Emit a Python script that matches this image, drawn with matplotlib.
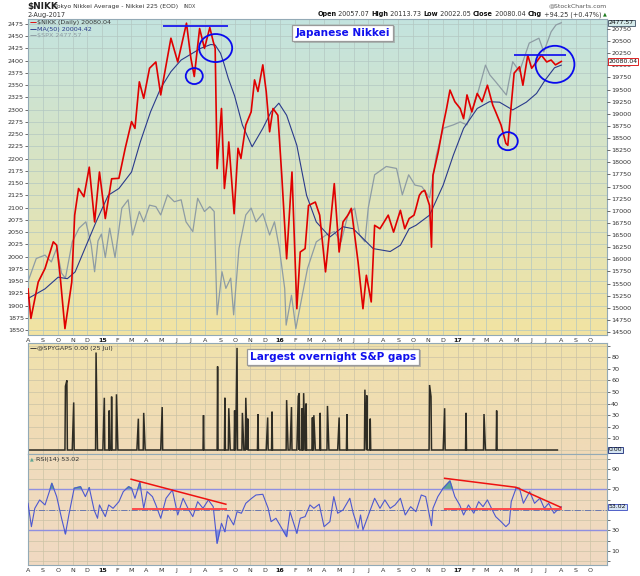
import numpy as np
import pandas as pd
import matplotlib
matplotlib.use("Agg")
import matplotlib.pyplot as plt
import matplotlib.dates as mdates
import matplotlib.patheffects as pe
from matplotlib.colors import to_rgb
from matplotlib.patches import Ellipse

# values (approximate)
nikk_dates = ["2014-08-01", "2014-08-07", "2014-08-22", "2014-09-05", "2014-09-22", "2014-09-29",
              "2014-10-06", "2014-10-16", "2014-10-23", "2014-10-30", "2014-11-05", "2014-11-13",
              "2014-11-24", "2014-12-05", "2014-12-16", "2014-12-26", "2015-01-07", "2015-01-20",
              "2015-02-04", "2015-02-17", "2015-03-02", "2015-03-09", "2015-03-18", "2015-03-27",
              "2015-04-08", "2015-04-21", "2015-05-01", "2015-05-22", "2015-06-05", "2015-06-23",
              "2015-07-02", "2015-07-09", "2015-07-20", "2015-07-30", "2015-08-10", "2015-08-17",
              "2015-08-21", "2015-08-25", "2015-09-03", "2015-09-09", "2015-09-16", "2015-09-18",
              "2015-09-29", "2015-10-07", "2015-10-13", "2015-10-23", "2015-11-03", "2015-11-10",
              "2015-11-17", "2015-11-27", "2015-12-04", "2015-12-11", "2015-12-18", "2015-12-28",
              "2016-01-05", "2016-01-15", "2016-01-26", "2016-02-05", "2016-02-12", "2016-02-22",
              "2016-02-29", "2016-03-14", "2016-03-23", "2016-04-04", "2016-04-13", "2016-04-22",
              "2016-05-02", "2016-05-10", "2016-05-20", "2016-05-27", "2016-06-10", "2016-06-20",
              "2016-06-27", "2016-07-07", "2016-07-14", "2016-07-25", "2016-08-11", "2016-08-22",
              "2016-09-05", "2016-09-14", "2016-09-23", "2016-10-03", "2016-10-07", "2016-10-14",
              "2016-10-19", "2016-10-25", "2016-11-04", "2016-11-08", "2016-11-11", "2016-11-22",
              "2016-12-02", "2016-12-09", "2016-12-16", "2016-12-26", "2017-01-06", "2017-01-13",
              "2017-01-20", "2017-01-30", "2017-02-10", "2017-02-20", "2017-03-03", "2017-03-14",
              "2017-03-20", "2017-03-31", "2017-04-10", "2017-04-14", "2017-04-21", "2017-04-27",
              "2017-05-08", "2017-05-15", "2017-05-25", "2017-06-02", "2017-06-12", "2017-06-22",
              "2017-07-03", "2017-07-12", "2017-07-21", "2017-08-02"]
nikk_close = [15390, 14780, 15530, 15810, 16360, 16290,
              15670, 14570, 15050, 15530, 16910, 17460,
              17290, 17900, 16770, 17800, 16840, 17660,
              17670, 18290, 18840, 18700, 19660, 19320,
              19940, 20070, 19390, 20560, 20070, 20870,
              20150, 19770, 20760, 20350, 20780, 20490,
              20350, 17870, 19110, 17460, 18150, 18420,
              16940, 18290, 18080, 18770, 19040, 19700,
              19460, 20010, 19460, 18630, 19110, 18970,
              17730, 16010, 17800, 14980, 16150, 16220,
              17110, 17180, 16910, 15740, 16630, 17560,
              16150, 16770, 16910, 17050, 15940, 14980,
              15670, 15120, 16700, 16630, 16910, 16560,
              17010, 16630, 16840, 16910, 17050, 17320,
              17390, 17420, 17110, 16250, 17730, 18220,
              18770, 19110, 19490, 19250, 19110, 18900,
              19390, 19040, 19420, 19250, 19590, 19180,
              19040, 18770, 18390, 18350, 19180, 19840,
              19970, 19590, 20210, 19940, 20070, 20210,
              20070, 20110, 20010, 20080.04]

ma50_dates = ["2014-08-01", "2014-09-05", "2014-10-02", "2014-10-21", "2014-11-06", "2014-11-26",
              "2014-12-19", "2015-01-13", "2015-02-04", "2015-03-02", "2015-03-20", "2015-04-10",
              "2015-05-01", "2015-05-22", "2015-06-12", "2015-07-02", "2015-07-22", "2015-08-12",
              "2015-08-21", "2015-09-01", "2015-09-07", "2015-09-17", "2015-09-30", "2015-10-16",
              "2015-11-05", "2015-11-27", "2015-12-14", "2015-12-30", "2016-01-15", "2016-02-05",
              "2016-02-25", "2016-03-16", "2016-04-13", "2016-05-10", "2016-05-31", "2016-06-20",
              "2016-07-11", "2016-08-15", "2016-09-05", "2016-09-23", "2016-10-07", "2016-11-04",
              "2016-12-02", "2016-12-23", "2017-01-13", "2017-02-10", "2017-03-07", "2017-03-28",
              "2017-04-24", "2017-05-22", "2017-06-12", "2017-06-30", "2017-07-19", "2017-08-02"]
ma50_values = [15190, 15390, 15630, 15600, 15740, 16220,
               16770, 17320, 17460, 17800, 18420, 19040,
               19530, 19870, 20110, 20230, 20350, 20430,
               20420, 20250, 20070, 19730, 19370, 18770,
               18320, 18700, 19040, 19220, 18970, 18350,
               17320, 16770, 16460, 16670, 16630, 16430,
               16220, 16160, 16290, 16630, 16700, 16910,
               17530, 18150, 18700, 19110, 19250, 19240,
               19080, 19240, 19420, 19700, 19950, 20004.42]

spx_dates = ["2014-08-01", "2014-08-18", "2014-09-05", "2014-09-18", "2014-09-29", "2014-10-09",
             "2014-10-17", "2014-10-31", "2014-11-14", "2014-11-28", "2014-12-09", "2014-12-16",
             "2014-12-23", "2014-12-30", "2015-01-07", "2015-01-16", "2015-01-27", "2015-02-10",
             "2015-02-23", "2015-03-04", "2015-03-18", "2015-03-27", "2015-04-08", "2015-04-21",
             "2015-05-01", "2015-05-15", "2015-05-29", "2015-06-12", "2015-06-22", "2015-07-06",
             "2015-07-16", "2015-07-30", "2015-08-10", "2015-08-19", "2015-08-25", "2015-09-04",
             "2015-09-12", "2015-09-22", "2015-09-28", "2015-10-09", "2015-10-23", "2015-11-03",
             "2015-11-13", "2015-11-27", "2015-12-11", "2015-12-21", "2015-12-31", "2016-01-11",
             "2016-01-14", "2016-01-25", "2016-02-03", "2016-02-15", "2016-02-27", "2016-03-16",
             "2016-04-05", "2016-04-22", "2016-05-06", "2016-05-20", "2016-06-03", "2016-06-13",
             "2016-06-24", "2016-07-01", "2016-07-14", "2016-08-07", "2016-08-28", "2016-09-09",
             "2016-09-22", "2016-10-05", "2016-10-19", "2016-11-04", "2016-11-18", "2016-12-02",
             "2016-12-23", "2017-01-06", "2017-01-20", "2017-02-10", "2017-02-27", "2017-03-08",
             "2017-03-20", "2017-04-11", "2017-04-24", "2017-05-08", "2017-05-28", "2017-06-17",
             "2017-06-27", "2017-07-12", "2017-07-22", "2017-08-02"]
spx_close = [1949, 1996, 2003, 1989, 2017, 1966,
             1956, 2030, 2058, 2071, 2024, 1969,
             2032, 2046, 1998, 2058, 1998, 2099,
             2116, 2044, 2092, 2071, 2105, 2102,
             2085, 2126, 2112, 2116, 2071, 2051,
             2119, 2092, 2102, 2092, 1881, 1969,
             1935, 1956, 1881, 2017, 2085, 2099,
             2071, 2088, 2044, 2071, 2017, 1935,
             1860, 1921, 1853, 1915, 1976, 2030,
             2044, 2051, 2030, 2085, 2099, 2044,
             2030, 2100, 2167, 2184, 2180, 2126,
             2167, 2146, 2143, 2120, 2207, 2262,
             2269, 2275, 2269, 2330, 2391, 2371,
             2357, 2330, 2398, 2378, 2436, 2446,
             2418, 2459, 2473, 2477.57]

gap_dates = ["2014-10-17", "2014-10-20", "2014-11-03", "2014-12-19", "2015-01-05", "2015-01-15",
             "2015-01-20", "2015-01-30", "2015-03-16", "2015-03-27", "2015-05-04", "2015-07-28",
             "2015-08-26", "2015-09-10", "2015-09-18", "2015-09-30", "2015-10-05", "2015-10-16",
             "2015-10-23", "2015-10-27", "2015-11-17", "2015-12-07", "2015-12-16", "2016-01-15",
             "2016-01-25", "2016-02-08", "2016-02-10", "2016-02-16", "2016-02-19", "2016-02-24",
             "2016-03-08", "2016-03-11", "2016-03-24", "2016-04-08", "2016-05-02", "2016-05-18",
             "2016-06-24", "2016-06-28", "2016-07-05", "2016-11-04", "2016-11-07", "2016-12-05",
             "2017-01-18", "2017-02-24", "2017-03-22"]
gap_values = [55, 60, 41, 84, 45, 34,
              46, 48, 27, 32, 37, 30,
              72, 45, 36, 34, 88, 32,
              45, 27, 31, 28, 33, 43,
              37, 47, 49, 36, 49, 40,
              28, 30, 32, 38, 28, 31,
              52, 47, 27, 56, 46, 36,
              32, 31, 34]
gap_last_date = "2017-07-25"

rsi_dates = ["2014-08-01", "2014-08-08", "2014-08-15", "2014-08-25", "2014-09-05", "2014-09-15",
             "2014-09-19", "2014-09-29", "2014-10-09", "2014-10-17", "2014-10-24", "2014-11-04",
             "2014-11-17", "2014-11-27", "2014-12-05", "2014-12-15", "2014-12-22", "2014-12-26",
             "2015-01-07", "2015-01-14", "2015-01-23", "2015-02-04", "2015-02-13", "2015-02-24",
             "2015-03-02", "2015-03-09", "2015-03-19", "2015-03-27", "2015-04-03", "2015-04-14",
             "2015-04-21", "2015-05-01", "2015-05-12", "2015-05-25", "2015-06-05", "2015-06-16",
             "2015-06-26", "2015-07-06", "2015-07-16", "2015-07-27", "2015-08-07", "2015-08-17",
             "2015-08-25", "2015-09-03", "2015-09-10", "2015-09-16", "2015-09-28", "2015-10-05",
             "2015-10-14", "2015-10-23", "2015-11-04", "2015-11-13", "2015-11-27", "2015-12-08",
             "2015-12-14", "2015-12-24", "2016-01-05", "2016-01-15", "2016-01-22", "2016-02-05",
             "2016-02-12", "2016-02-22", "2016-03-03", "2016-03-11", "2016-03-22", "2016-04-01",
             "2016-04-13", "2016-04-21", "2016-04-29", "2016-05-10", "2016-05-24", "2016-05-31",
             "2016-06-10", "2016-06-15", "2016-06-20", "2016-06-30", "2016-07-14", "2016-07-25",
             "2016-08-04", "2016-08-15", "2016-08-25", "2016-09-05", "2016-09-15", "2016-09-26",
             "2016-10-07", "2016-10-18", "2016-10-27", "2016-11-08", "2016-11-11", "2016-11-21",
             "2016-12-02", "2016-12-16", "2016-12-26", "2017-01-05", "2017-01-13", "2017-01-23",
             "2017-02-03", "2017-02-13", "2017-02-22", "2017-03-03", "2017-03-13", "2017-03-20",
             "2017-03-31", "2017-04-10", "2017-04-17", "2017-04-21", "2017-05-01", "2017-05-08",
             "2017-05-16", "2017-05-29", "2017-06-08", "2017-06-19", "2017-06-28", "2017-07-07",
             "2017-07-18", "2017-07-25", "2017-08-02"]
rsi_values = [56.5, 33.7, 51.6, 59.8, 54.9, 69.5,
              76.0, 63.0, 41.9, 26.6, 45.1, 71.2,
              72.7, 63.0, 71.8, 50.0, 41.9, 54.9,
              43.5, 54.9, 51.6, 58.1, 67.9, 72.7,
              71.2, 61.4, 77.0, 51.6, 67.9, 63.0,
              54.9, 41.9, 61.4, 69.5, 45.1, 61.4,
              51.6, 43.5, 58.1, 51.6, 59.8, 53.2,
              17.5, 37.0, 28.8, 45.1, 35.4, 48.3,
              46.8, 56.5, 61.4, 64.6, 65.3, 51.6,
              38.6, 41.9, 32.1, 24.0, 48.3, 27.3,
              41.9, 43.5, 54.9, 51.6, 55.6, 33.7,
              38.6, 63.0, 46.8, 50.0, 61.4, 46.8,
              32.1, 45.1, 30.5, 43.5, 61.4, 51.6,
              59.8, 51.6, 54.9, 61.4, 45.1, 53.2,
              48.3, 64.6, 63.0, 34.7, 51.6, 63.0,
              71.2, 78.3, 63.0, 54.9, 45.1, 54.9,
              46.8, 58.1, 53.2, 59.8, 50.0, 43.5,
              38.6, 33.7, 37.0, 58.1, 71.2, 71.2,
              56.5, 67.9, 56.5, 61.4, 51.6, 56.5,
              46.8, 50.0, 53.02]

# hand-drawn annotations on the chart
rsi_trend_2015 = (["2015-03-01", "2015-09-12"], [80.0, 55.6])
rsi_flat_2015 = (["2015-03-04", "2015-09-12"], [50.7, 50.7])
rsi_trend_2017 = (["2016-12-05", "2017-05-01", "2017-08-01"], [80.9, 72.1, 52.6])
rsi_flat_2017 = (["2016-12-05", "2017-08-01"], [50.7, 50.7])
top_line_2015 = ("2015-05-05", "2015-09-16", 20818)
top_line_2017 = ("2017-04-27", "2017-08-12", 20207)
# centre date, centre value, width (days), height (index points)
circles = [("2015-08-22", 20357, 68, 578),
           ("2015-07-09", 19779, 35, 330),
           ("2017-07-20", 20021, 80, 764),
           ("2017-04-14", 18436, 41, 372)]

W, H = 640, 576
fig = plt.figure(figsize=(6.4, 5.76), dpi=100)
fig.patch.set_facecolor("white")


def fx(px):
    return px / W


def fy(py):
    return 1 - py / H


def panel(top, bottom, left=28, right=607):
    return fig.add_axes([fx(left), fy(bottom), (right - left) / W, (bottom - top) / H])


def gradient(ax, top_col, bottom_col):
    a, b = np.array(to_rgb(bottom_col)), np.array(to_rgb(top_col))
    t = np.linspace(0, 1, 200)[:, None]
    img = (a + (b - a) * t)[:, None, :]
    ax.imshow(img, extent=[0, 1, 0, 1], transform=ax.transAxes, aspect="auto",
              origin="lower", zorder=-1, interpolation="bilinear")


ax_spx = panel(19, 335)
ax_nk = ax_spx.twinx()
ax_gap = panel(343, 454)
ax_rsi = panel(454, 565)

gradient(ax_spx, "#c3e3df", "#f2e4a2")
gradient(ax_gap, "#f0e2ac", "#f0dab8")
gradient(ax_rsi, "#f0dcbc", "#f0d9c2")

d = pd.to_datetime
x0, x1 = pd.Timestamp("2014-08-01"), pd.Timestamp("2017-11-04")
months = pd.date_range("2014-08-01", "2017-10-01", freq="MS")
month_labels = [str(m.year)[2:] if m.month == 1 else m.strftime("%b")[0] for m in months]

tick_kw = dict(labelsize=4.6, colors="#333333", length=2, width=0.5, pad=1)
grid_main = "#b3c7c2"
grid_low = "#cbc3a6"

# ---- price panel ----
ax_spx.plot(d(spx_dates), spx_close, color="#8e9ca4", lw=0.9, zorder=2)
ax_nk.plot(d(ma50_dates), ma50_values, color="#2a3a8c", lw=0.8, zorder=2)
ax_nk.plot(d(nikk_dates), nikk_close, color="#e00000", lw=1.2, zorder=3)

for s, e, v in (top_line_2015, top_line_2017):
    ax_nk.hlines(v, d(s), d(e), color="#1a1aee", lw=1.3, zorder=4)
for c_date, c_val, w_days, h_val in circles:
    ax_nk.add_patch(Ellipse((mdates.date2num(d(c_date)), c_val), w_days, h_val,
                            fill=False, ec="#0a0aee", lw=1.3, zorder=4))

ax_spx.set_ylim(1839.8, 2485.2)
ax_nk.set_ylim(14438, 20956)
ax_spx.set_yticks(np.arange(1850, 2476, 25))
ax_nk.set_yticks(np.arange(14500, 20751, 250))
ax_spx.yaxis.tick_left()
ax_nk.yaxis.tick_right()
ax_spx.tick_params(axis="y", **tick_kw)
ax_nk.tick_params(axis="y", **tick_kw)
ax_spx.grid(True, color=grid_main, lw=0.5)

# ---- overnight gaps panel ----
gap_days = pd.bdate_range(x0, gap_last_date)
gaps = pd.Series(0.0, index=gap_days)
for dt, v in zip(gap_dates, gap_values):
    i = gaps.index.get_indexer([pd.Timestamp(dt)], method="nearest")[0]
    gaps.iloc[i] = v
ax_gap.plot(gaps.index, gaps.values, color="#2e2c24", lw=1.1, solid_joinstyle="miter")
ax_gap.set_ylim(-3.45, 92.2)
ax_gap.set_yticks(np.arange(0, 91, 10))
ax_gap.set_yticklabels(["" if v in (0, 90) else str(v) for v in range(0, 91, 10)])
ax_gap.yaxis.tick_right()
ax_gap.tick_params(axis="y", **tick_kw)
ax_gap.grid(True, color=grid_low, lw=0.5)

# ---- RSI panel ----
rd = d(rsi_dates)
rv = np.array(rsi_values)
ax_rsi.fill_between(rd, rv, 70, where=rv > 70, interpolate=True, color="#5ea593", zorder=2)
ax_rsi.fill_between(rd, rv, 30, where=rv < 30, interpolate=True, color="#8090dd", zorder=2)
ax_rsi.axhline(70, color="#8f8fe0", lw=1.0, zorder=2)
ax_rsi.axhline(30, color="#8f8fe0", lw=1.0, zorder=2)
ax_rsi.axhline(50, color="#6a78b0", lw=0.7, ls="-.", zorder=2)
ax_rsi.plot(rd, rv, color="#4d58d0", lw=0.8, zorder=3)
for xs, ys in (rsi_trend_2015, rsi_trend_2017):
    ax_rsi.plot(d(xs), ys, color="#ee1111", lw=1.1, zorder=4)
for xs, ys in (rsi_flat_2015, rsi_flat_2017):
    ax_rsi.plot(d(xs), ys, color="#ff4a4a", lw=1.4, zorder=4)
ax_rsi.set_ylim(-3.7, 104.6)
ax_rsi.set_yticks(np.arange(0, 101, 10))
# the 50 label sits under the current-value tag
ax_rsi.set_yticklabels([str(v) if v in (10, 30, 70, 90) else "" for v in range(0, 101, 10)])
ax_rsi.yaxis.tick_right()
ax_rsi.tick_params(axis="y", **tick_kw)
ax_rsi.grid(True, color=grid_low, lw=0.5)

# ---- shared x axis ----
for ax in (ax_spx, ax_nk, ax_gap, ax_rsi):
    ax.set_xlim(x0, x1)
for ax in (ax_spx, ax_gap, ax_rsi):
    ax.set_xticks(months)
    ax.tick_params(axis="x", labelsize=4.6, colors="#333333", length=0, pad=2)
    for sp in ax.spines.values():
        sp.set_color("#93aab6")
        sp.set_linewidth(0.8)
for sp in ax_nk.spines.values():
    sp.set_visible(False)
ax_gap.set_xticklabels([])
for ax in (ax_spx, ax_rsi):
    ax.set_xticklabels(month_labels)
    for lab in ax.get_xticklabels():
        if lab.get_text().isdigit():
            lab.set_fontweight("bold")
            lab.set_color("#111111")

# ---- legends / labels inside panels ----
leg = [("$NIKK (Daily) 20080.04", "#e00000", "#333333", 22.5),
       ("MA(50) 20004.42", "#2a3a8c", "#2a3a8c", 29.0),
       ("$SPX 2477.57", "#8e9ca4", "#8e9ca4", 35.3)]
for txt, dash_col, txt_col, py in leg:
    fig.text(fx(29.5), fy(py), "\u2014", color=dash_col, fontsize=5, va="center", ha="left",
             fontweight="bold")
    fig.text(fx(37), fy(py), txt, color=txt_col, fontsize=4.6, va="center", ha="left")
fig.text(fx(29.5), fy(348.5), "\u2014", color="#333333", fontsize=5, va="center", fontweight="bold")
fig.text(fx(37), fy(348.5), "@SPYGAPS 0.00 (25 Jul)", color="#333333", fontsize=4.6, va="center")
fig.text(fx(30), fy(459), "\u25b2", color="#5ea593", fontsize=3.5, va="center")
fig.text(fx(36), fy(459), "RSI(14) 53.02", color="#333333", fontsize=4.6, va="center")

box_kw = dict(fontsize=7.6, fontweight="bold", color="#1010ee", ha="center", va="center",
              bbox=dict(boxstyle="square,pad=0.32", fc="white", ec="#9a9a9a", lw=0.9))
for px, py, txt in ((342.5, 33, "Japanese Nikkei"), (333, 357, "Largest overnight S&P gaps")):
    t = fig.text(fx(px), fy(py), txt, **box_kw)
    t.get_bbox_patch().set_path_effects([
        pe.SimplePatchShadow(offset=(1.2, -1.2), shadow_rgbFace="#9a9a9a", alpha=0.6),
        pe.Normal()])


# current-value tags on the right axis
def tag(ax, value, text, fc, ec):
    ax.annotate(text, xy=(1.0, value), xycoords=("axes fraction", "data"),
                xytext=(1.2, 0), textcoords="offset points", fontsize=4.4, color="#111111",
                va="center", ha="left", annotation_clip=False, zorder=10,
                bbox=dict(boxstyle="square,pad=0.12", fc=fc, ec=ec, lw=0.7))


tag(ax_spx, 2477.57, "2477.57", "#d4eaea", "#556677")
tag(ax_nk, 20080.04, "20080.04", "#ffffff", "#dd2222")
tag(ax_gap, 0.0, "0.00", "#d6e6f2", "#334488")
tag(ax_rsi, 53.02, "53.02", "#d6e4f4", "#5060c8")

# ---- header ----
fig.text(fx(27), fy(6.5), "$NIKK", fontsize=6.4, fontweight="bold", color="#222222", va="center")
fig.text(fx(54), fy(6.5), "Tokyo Nikkei Average - Nikkei 225 (EOD)", fontsize=4.4,
         color="#333333", va="center")
fig.text(fx(184), fy(6.8), "INDX", fontsize=3.5, color="#444444", va="center")
fig.text(fx(27), fy(14.5), "2-Aug-2017", fontsize=4.7, color="#333333", va="center")
fig.text(fx(607), fy(5.5), "@StockCharts.com", fontsize=4.4, color="#555555", va="center",
         ha="right")

renderer = fig.canvas.get_renderer()
ohlc = [("Open", True), (" 20057.07 ", False), ("High", True), (" 20113.73 ", False),
        ("Low", True), (" 20022.05 ", False), ("Close", True), (" 20080.04 ", False),
        ("Chg", True), (" +94.25 (+0.47%) ", False), ("\u25b2", False)]
xr = 607
for txt, bold in reversed(ohlc):
    col = "#1a7a1a" if txt == "\u25b2" else ("#111111" if bold else "#333333")
    size = 3.6 if txt == "\u25b2" else 4.7
    t = fig.text(fx(xr), fy(14.3), txt, fontsize=size, fontweight="bold" if bold else "normal",
                 color=col, va="center", ha="right")
    xr -= t.get_window_extent(renderer).width

fig.savefig("out.png", dpi=100)
